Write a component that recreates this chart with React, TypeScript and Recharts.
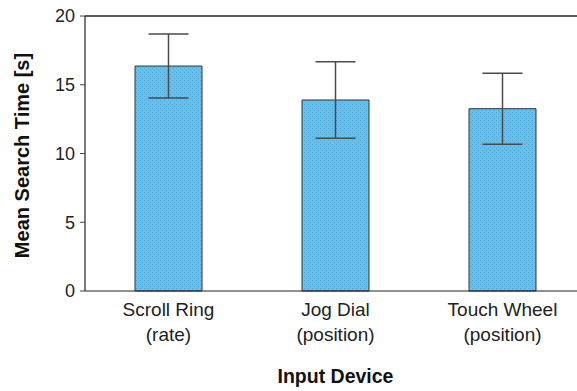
import React from 'react';
import { BarChart, Bar, XAxis, YAxis, ErrorBar, ReferenceLine, Label } from 'recharts';

const devices = ['Scroll Ring', 'Jog Dial', 'Touch Wheel'];
const modes = ['(rate)', '(position)', '(position)'];
const meanTimes = [16.36, 13.89, 13.26];
const stdDevs = [2.33, 2.78, 2.58];
const yTicks = [0, 5, 10, 15, 20];

const data = devices.map((d, i) => ({ device: d, mode: modes[i], mean: meanTimes[i], err: stdDevs[i] }));

const font = '"Liberation Sans", Arial, Helvetica, sans-serif';

const DeviceTick = (props: any) => {
  const { x, y, payload, index } = props;
  return (
    <text x={x} y={y} textAnchor="middle" fontFamily={font} fontSize={19} fill="#222">
      <tspan x={x} dy={17}>{payload.value}</tspan>
      <tspan x={x} dy={25}>{modes[index]}</tspan>
    </text>
  );
};

const YTitle = (props: any) => {
  const vb = props.viewBox;
  const cx = 22;
  const cy = vb.y + vb.height / 2 + 2;
  return (
    <text
      x={cx}
      y={cy}
      transform={`rotate(-90, ${cx}, ${cy})`}
      textAnchor="middle"
      dominantBaseline="central"
      fontFamily={font}
      fontWeight="bold"
      fontSize={20}
      fill="#111"
    >
      Mean Search Time [s]
    </text>
  );
};

const App: React.FC = () => {
  return (
    <div style={{ position: 'absolute', left: 0, top: 0, width: 577, height: 391, overflow: 'hidden', background: '#fff' }}>
      <BarChart width={600} height={391} data={data} margin={{ top: 16, right: 14, bottom: 0, left: 0 }} barCategoryGap={0}>
        <defs>
          <pattern id="dots" width="4" height="4" patternUnits="userSpaceOnUse">
            <rect width="4" height="4" fill="#66c0ea" />
            <rect x="0" y="0" width="1" height="1" fill="#4fa8dc" />
            <rect x="2" y="2" width="1" height="1" fill="#4fa8dc" />
          </pattern>
        </defs>
        <XAxis
          dataKey="device"
          height={100}
          tickLine={false}
          axisLine={{ stroke: '#222', strokeWidth: 1.2 }}
          tick={<DeviceTick />}
          interval={0}
        >
          <Label value="Input Device" position="insideBottom" offset={8} fontFamily={font} fontWeight="bold" fontSize={19.5} fill="#111" />
        </XAxis>
        <YAxis
          domain={[0, 20]}
          ticks={yTicks}
          width={85}
          tickSize={5}
          tickMargin={5}
          tickLine={{ stroke: '#444' }}
          axisLine={{ stroke: '#222', strokeWidth: 1.2 }}
          tick={{ fontFamily: font, fontSize: 18, fill: '#222' }}
        >
          <Label content={<YTitle />} />
        </YAxis>
        <ReferenceLine y={20} stroke="#222" strokeWidth={1.5} />
        <Bar dataKey="mean" barSize={67} fill="url(#dots)" stroke="#333" strokeWidth={1} isAnimationActive={false}>
          <ErrorBar dataKey="err" width={20} stroke="#4a4a4a" strokeWidth={1.5} isAnimationActive={false} />
        </Bar>
      </BarChart>
    </div>
  );
};

export default App;
